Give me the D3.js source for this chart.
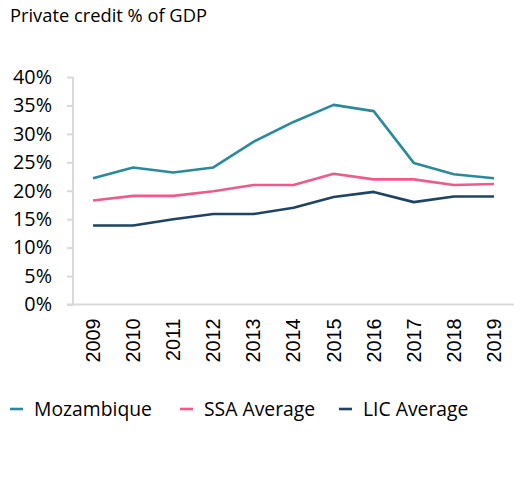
<!DOCTYPE html>
<html><head><meta charset="utf-8">
<script src="https://cdn.jsdelivr.net/npm/d3@7"></script>
<style>body{margin:0;background:#fff;}svg{display:block;}</style>
</head><body>
<svg id="c" width="526" height="504"></svg>
<script>
const years = ["2009","2010","2011","2012","2013","2014","2015","2016","2017","2018","2019"];
const mozambique = [22.2, 24.1, 23.2, 24.1, 28.6, 32.1, 35.1, 34.0, 24.9, 22.9, 22.2];
const ssaAverage = [18.3, 19.1, 19.1, 19.9, 21.0, 21.0, 23.0, 22.0, 22.0, 21.0, 21.2];
const licAverage = [13.9, 13.9, 15.0, 15.9, 15.9, 17.0, 18.9, 19.8, 18.0, 19.0, 19.0];
const yTicks = [0, 5, 10, 15, 20, 25, 30, 35, 40];
const seriesNames = ["Mozambique", "SSA Average", "LIC Average"];
const seriesColors = ["#2a8a9c", "#f0598a", "#1d4563"];

(function () {
const series = [mozambique, ssaAverage, licAverage].map((v, i) => ({name: seriesNames[i], color: seriesColors[i], values: v}));

const svg = d3.select("#c");
const font = "'Open Sans', sans-serif";
const pLeft = 73, pRight = 514, pTop = 77, pBottom = 304.5;

// fit a font size so that the reference text width is reached
function fitSize(sel, target) {
  const n = sel.node();
  const fs = parseFloat(sel.attr("font-size"));
  const w = n.getComputedTextLength();
  return fs * target / w;
}

const title = svg.append("text").attr("x", 10).attr("y", 22).attr("font-family", font).attr("font-size", 17).attr("fill", "#000")
  .text("Private credit % of GDP");
title.attr("font-size", fitSize(title, 197));

const x = d3.scaleBand().domain(years).range([pLeft, pRight]);
const y = d3.scaleLinear().domain([0, 40]).range([pBottom, pTop]);

// y axis
const yAxis = svg.append("g").attr("transform", `translate(${pLeft},0)`)
  .call(d3.axisLeft(y).tickValues(yTicks).tickFormat(d => d + "%").tickSize(6).tickPadding(6));
yAxis.select(".domain").attr("stroke", "#d9d9d9").attr("stroke-width", 2).attr("d", `M0,${pTop}V${pBottom}`);
yAxis.selectAll(".tick line").attr("stroke", "#d9d9d9").attr("stroke-width", 2);
const yText = yAxis.selectAll(".tick text").attr("font-family", font).attr("font-size", 17).attr("fill", "#000").attr("x", -21);
const yfs = fitSize(yText.filter(d => d === 40), 39);
yText.attr("font-size", yfs);

// x axis
const xAxis = svg.append("g").attr("transform", `translate(0,${pBottom})`)
  .call(d3.axisBottom(x).tickSize(0).tickPadding(0));
xAxis.select(".domain").attr("stroke", "#d9d9d9").attr("stroke-width", 2).attr("d", `M${pLeft-6},0H${pRight}`);
const xText = xAxis.selectAll(".tick text")
  .attr("font-family", "'Liberation Sans', Arial, sans-serif").attr("font-size", 16).attr("fill", "#000")
  .attr("transform", "rotate(-90)").attr("text-anchor", "end").attr("dy", "0.35em").attr("x", -14).attr("y", 0);
const xfs = fitSize(xText.filter(d => d === "2009"), 44);
xText.attr("font-size", xfs);

const line = d3.line().x((d, i) => x(years[i]) + x.bandwidth() / 2).y(d => y(d));
svg.append("g").selectAll("path").data(series).join("path")
  .attr("d", d => line(d.values)).attr("fill", "none").attr("stroke", d => d.color)
  .attr("stroke-width", 2.6).attr("stroke-linejoin", "round");

// legend
const legendX = [10, 180, 339];
const legendW = [118, 111, 104];
const lg = svg.append("g").selectAll("g").data(series).join("g")
  .attr("transform", (d, i) => `translate(${legendX[i]},409)`);
lg.append("line").attr("x1", 0).attr("x2", 13).attr("y1", 0).attr("y2", 0).attr("stroke", d => d.color).attr("stroke-width", 2.6);
const lt = lg.append("text").attr("x", 24).attr("y", 0).attr("dy", "0.35em").attr("font-family", font).attr("font-size", 17).attr("fill", "#000")
  .text(d => d.name);
const lfs = fitSize(lt.filter((d, i) => i === 0), legendW[0]);
lt.attr("font-size", lfs);
})();
</script>
</body></html>
